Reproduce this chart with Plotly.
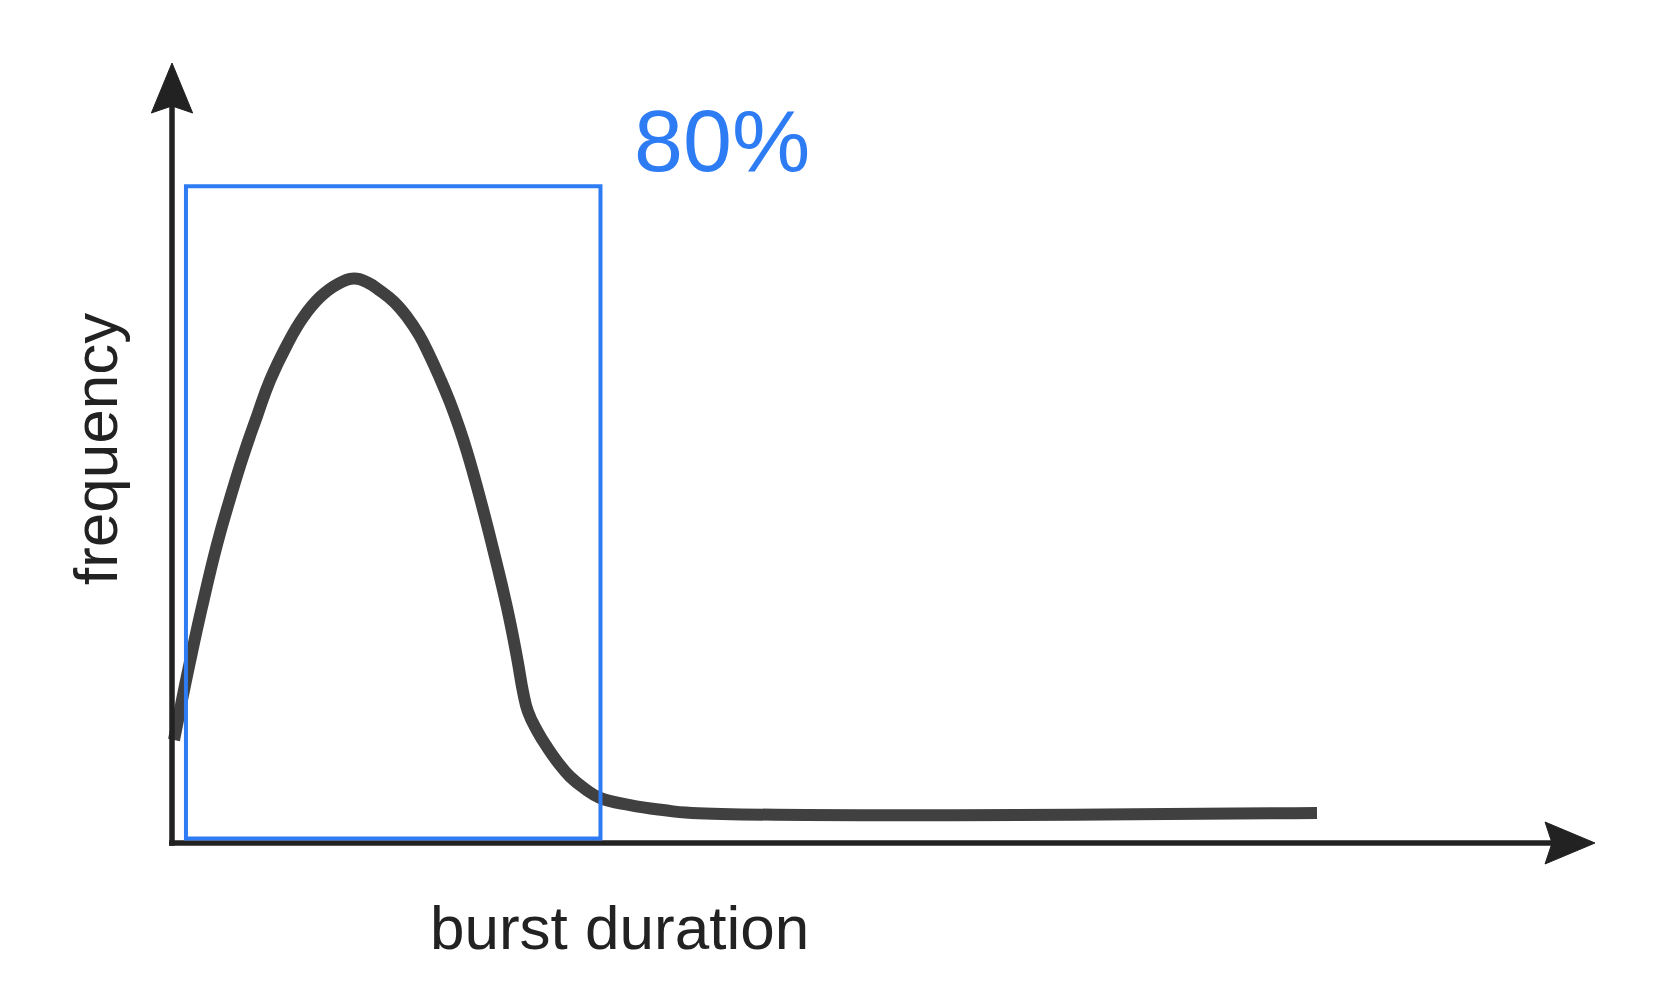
import plotly.graph_objects as go

# ---- data (arbitrary units) ----
burst_duration = [0.141, 0.703, 1.265, 2.108, 3.162, 4.076, 4.989, 5.973, 6.887, 8.082,
                  9.206, 10.401, 11.595, 12.790, 13.774, 14.617, 15.601, 16.514, 17.358,
                  18.131, 18.833, 19.536, 20.169, 20.731, 21.645, 22.558, 23.542, 24.245,
                  24.666, 25.018, 25.650, 26.353, 27.126, 27.969, 29.023, 30.077, 32.185,
                  34.504, 36.542, 80.464]
frequency = [13.21, 18.33, 23.26, 30.26, 38.27, 44.14, 49.55, 54.72, 59.31, 63.87,
             67.36, 69.97, 71.60, 72.36, 71.82, 70.82, 69.38, 67.46, 65.15,
             62.40, 59.58, 56.50, 53.33, 50.15, 44.23, 37.73, 30.19, 23.78,
             19.40, 16.83, 14.41, 12.31, 10.31, 8.51, 6.94, 5.78, 4.86,
             4.23, 3.86, 3.85]

highlight_x = [0.98, 30.11]      # duration range of the highlighted box
highlight_y = [0.58, 84.2]       # frequency range of the highlighted box
highlight_label = "80%"
x_label = "burst duration"
y_label = "frequency"

# page has an 8px body margin; figure is sized to fit inside it
FIG_W, FIG_H = 1650, 990
PX_X, PX_Y = 14.23, 7.8          # pixels per data unit
ORIG_X, ORIG_Y = 172, 843        # page pixel position of the axes origin


def dx(px):
    return (px - ORIG_X) / PX_X


def dy(py):
    return (ORIG_Y - py) / PX_Y


AX_X = [dx(8), dx(8 + FIG_W)]
AX_Y = [dy(8 + FIG_H), dy(8)]
AXIS_COLOR = "#222222"
CURVE_COLOR = "#404040"
BLUE = "#2E7CF4"

fig = go.Figure()

fig.add_trace(go.Scatter(
    x=burst_duration, y=frequency, mode="lines",
    line=dict(color=CURVE_COLOR, width=12, shape="spline", smoothing=1.3),
    hoverinfo="skip", showlegend=False,
))

shapes = [
    # axes
    dict(type="line", x0=-0.2, y0=0, x1=97.0, y1=0,
         line=dict(color=AXIS_COLOR, width=5.5), layer="above"),
    dict(type="line", x0=0, y0=-0.35, x1=0, y1=94.6,
         line=dict(color=AXIS_COLOR, width=5.5), layer="above"),
    # arrow heads
    dict(type="path", path="M -1.45 93.59 L 0 100 L 1.45 93.59 L 0 94.5 Z",
         fillcolor=AXIS_COLOR, line=dict(color=AXIS_COLOR, width=1), layer="above"),
    dict(type="path", path="M 96.49 2.69 L 100 0 L 96.49 -2.69 L 96.98 0 Z",
         fillcolor=AXIS_COLOR, line=dict(color=AXIS_COLOR, width=1), layer="above"),
    # highlighted box
    dict(type="rect", x0=highlight_x[0], x1=highlight_x[1],
         y0=highlight_y[0], y1=highlight_y[1],
         line=dict(color=BLUE, width=4), layer="above"),
]

annotations = [
    dict(x=dx(619.5), y=dy(927), text=x_label, showarrow=False,
         xanchor="center", yanchor="middle",
         font=dict(family="Liberation Sans, Arial, sans-serif", size=62, color=AXIS_COLOR)),
    dict(x=dx(95), y=dy(449), text=y_label, showarrow=False, textangle=-90,
         xanchor="center", yanchor="middle",
         font=dict(family="Liberation Sans, Arial, sans-serif", size=62, color=AXIS_COLOR)),
    dict(x=dx(722), y=dy(140), text=highlight_label, showarrow=False,
         xanchor="center", yanchor="middle",
         font=dict(family="Liberation Sans, Arial, sans-serif", size=88, color=BLUE)),
]

fig.update_layout(
    width=FIG_W, height=FIG_H,
    margin=dict(l=0, r=0, t=0, b=0),
    paper_bgcolor="white", plot_bgcolor="white",
    xaxis=dict(range=AX_X, visible=False, fixedrange=True),
    yaxis=dict(range=AX_Y, visible=False, fixedrange=True),
    shapes=shapes, annotations=annotations, showlegend=False,
)

fig.write_html("out.html")
